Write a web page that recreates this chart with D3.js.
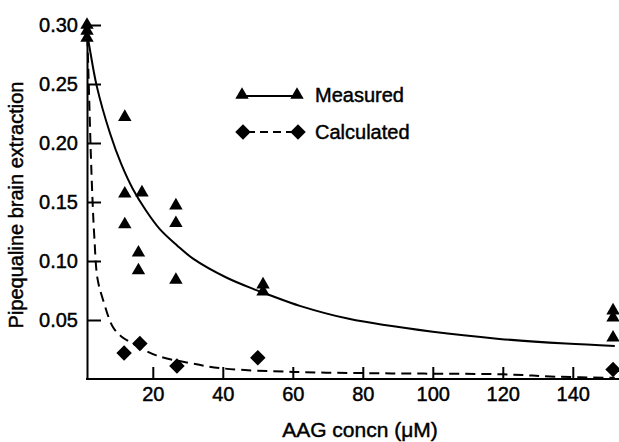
<!DOCTYPE html>
<html>
<head>
<meta charset="utf-8">
<script src="https://cdnjs.cloudflare.com/ajax/libs/d3/7.8.5/d3.min.js"></script>
<style>
  body { margin: 0; background: #fff; }
  svg { display: block; font-family: "Liberation Sans", Arial, sans-serif; }
  svg text { fill: #000; stroke: #000; stroke-width: 0.45px; }
  .axis path, .axis line { stroke: #000; stroke-width: 2; }
  .axis text { font-size: 20px; }
</style>
</head>
<body>
<svg id="canvas" width="619" height="442"></svg>
<script>
// measured points (triangles)
let measX = [1.2, 1.2, 1.2, 12, 12, 12, 16.9, 15.9, 15.9, 26.6, 26.6, 26.6, 51.5, 51.5, 151.5, 151.5, 151.5]
let measY = [0.300, 0.295, 0.289, 0.222, 0.157, 0.131, 0.158, 0.107, 0.092, 0.147, 0.132, 0.084, 0.080, 0.074, 0.058, 0.052, 0.035]

// calculated points (diamonds)
let calcX = [11.8, 16.3, 26.9, 50, 151.5]
let calcY = [0.022, 0.030, 0.011, 0.018, 0.008]

// fitted curves
let measCurveX = [1.3, 2.1, 4, 7.8, 11, 14.3, 18, 22, 27, 31.5, 41, 49, 53.5, 62, 76, 100, 119, 138, 152]
let measCurveY = [0.292, 0.278, 0.248, 0.208, 0.182, 0.161, 0.143, 0.127, 0.113, 0.102, 0.086, 0.076, 0.071, 0.062, 0.051, 0.040, 0.034, 0.030, 0.028]
let calcCurveX = [1.3, 1.8, 2.3, 2.8, 3.3, 4.2, 5.8, 8.6, 11, 14.3, 21, 30.6, 40, 60, 80, 100, 120, 135, 152]
let calcCurveY = [0.29, 0.24, 0.19, 0.15, 0.12, 0.085, 0.067, 0.044, 0.036, 0.030, 0.020, 0.0135, 0.009, 0.006, 0.005, 0.0045, 0.004, 0.002, 0.001]

let xTicks = [20, 40, 60, 80, 100, 120, 140]
let yTicks = [0.05, 0.10, 0.15, 0.20, 0.25, 0.30]

let canvas = d3.select('#canvas')

var x = d3.scaleLinear().domain([1.2, 153.2]).range([87, 619])
var y = d3.scaleLinear().domain([0, 0.30]).range([379, 25])

// axes, ticks drawn inward
canvas.append('g')
  .attr('class', 'axis')
  .attr('transform', 'translate(0,' + y(0) + ')')
  .call(d3.axisBottom(x).tickValues(xTicks).tickSizeInner(-12).tickSizeOuter(0).tickPadding(8).tickFormat(d3.format('d')))
  .call(g => g.select('.domain').attr('d', 'M86,0H619'))

canvas.append('g')
  .attr('class', 'axis')
  .attr('transform', 'translate(' + x(1.2) + ',0)')
  .call(d3.axisLeft(y).tickValues(yTicks).tickSizeInner(-14).tickSizeOuter(0).tickPadding(9).tickFormat(d3.format('.2f')))

canvas.selectAll('.axis .tick text').attr('font-size', 20).attr('font-family', null)

// curves
let line = d3.line().curve(d3.curveCatmullRom)
  .x(d => x(d[0])).y(d => y(d[1]))

canvas.append('path')
  .datum(d3.zip(measCurveX, measCurveY))
  .attr('d', line)
  .attr('fill', 'none').attr('stroke', '#000').attr('stroke-width', 2)

canvas.append('path')
  .datum(d3.zip(calcCurveX, calcCurveY))
  .attr('d', line)
  .attr('fill', 'none').attr('stroke', '#000').attr('stroke-width', 2)
  .attr('stroke-dasharray', '10,6')

let tri = d3.symbol().type(d3.symbolTriangle).size(78)
let dia = d3.symbol().type(d3.symbolSquare).size(120)

canvas.append('g')
  .selectAll('path')
  .data(d3.zip(measX, measY))
  .enter()
  .append('path')
  .attr('d', tri)
  .attr('transform', d => 'translate(' + x(d[0]) + ',' + y(d[1]) + ')')
  .attr('fill', '#000')

canvas.append('g')
  .selectAll('path')
  .data(d3.zip(calcX, calcY))
  .enter()
  .append('path')
  .attr('d', dia)
  .attr('transform', d => 'translate(' + x(d[0]) + ',' + y(d[1]) + ') rotate(45)')
  .attr('fill', '#000')

// legend
let legend = canvas.append('g')
legend.append('line').attr('x1', 242).attr('x2', 297).attr('y1', 96).attr('y2', 96)
  .attr('stroke', '#000').attr('stroke-width', 2)
legend.append('line').attr('x1', 243).attr('x2', 298).attr('y1', 132).attr('y2', 132)
  .attr('stroke', '#000').attr('stroke-width', 2).attr('stroke-dasharray', '8,5')
  .attr('stroke-dashoffset', -4)
;[242, 297].forEach(px => {
  legend.append('path').attr('d', tri).attr('transform', 'translate(' + px + ',95)').attr('fill', '#000')
})
;[243, 298].forEach(px => {
  legend.append('path').attr('d', dia).attr('transform', 'translate(' + px + ',132) rotate(45)').attr('fill', '#000')
})
legend.append('text').attr('x', 315).attr('y', 102).attr('font-size', 20).text('Measured')
legend.append('text').attr('x', 315).attr('y', 139).attr('font-size', 20).text('Calculated')

// axis titles
canvas.append('text')
  .attr('x', 360).attr('y', 437)
  .attr('text-anchor', 'middle').attr('font-size', 21)
  .text('AAG concn (μM)')

canvas.append('text')
  .attr('transform', 'translate(23,205) rotate(-90)')
  .attr('text-anchor', 'middle').attr('font-size', 20)
  .text('Pipequaline brain extraction')
</script>
</body>
</html>
